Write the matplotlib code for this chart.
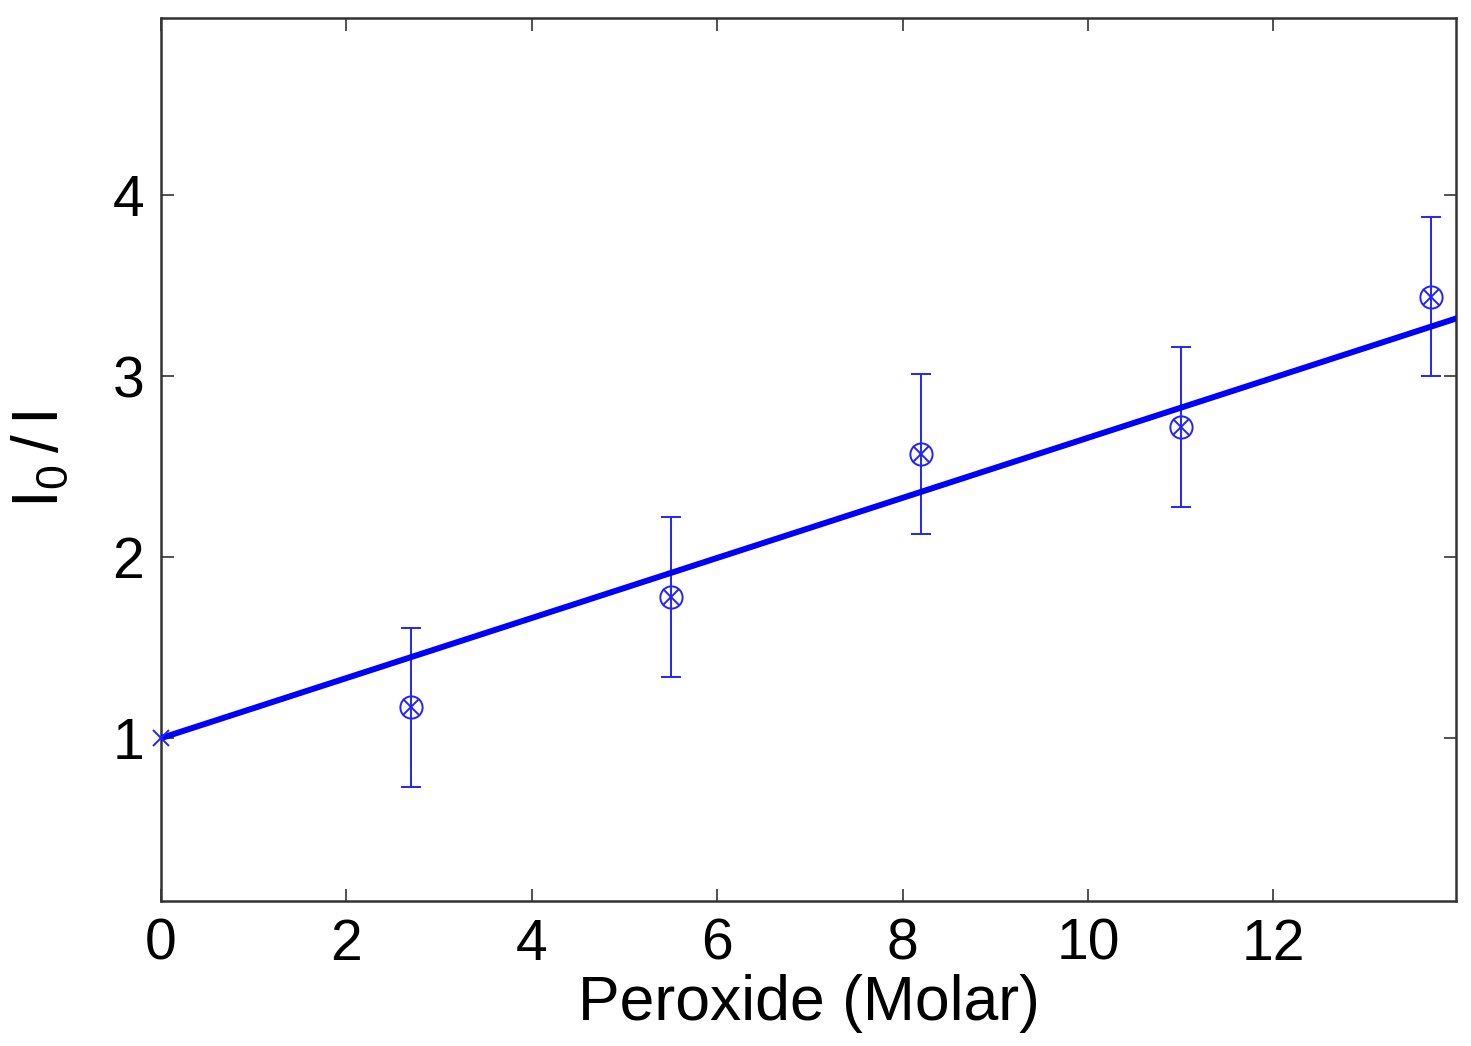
import matplotlib
matplotlib.use("Agg")
import matplotlib.pyplot as plt
import numpy as np

plt.rcParams['font.family'] = ['Liberation Sans', 'DejaVu Sans']
plt.rcParams['mathtext.fontset'] = 'custom'
plt.rcParams['mathtext.rm'] = 'Liberation Sans'

# Data
peroxide = [2.7, 5.5, 8.2, 11.0, 13.7]
ratio = [1.17, 1.78, 2.57, 2.72, 3.44]
ratio_err = [0.44, 0.44, 0.44, 0.44, 0.44]
origin_x = [0.0]
origin_y = [1.0]
fit_intercept = 1.0
fit_slope = 0.166
xticks = [0, 2, 4, 6, 8, 10, 12]
yticks = [1, 2, 3, 4]
xlim = (0, 13.97)
ylim = (0.1, 4.98)

fig = plt.figure(figsize=(14.71, 10.46), dpi=100)
ax = fig.add_axes([161/1471, 1-901/1046, (1456-161)/1471, (901-18)/1046])

fx = np.array(xlim)
ax.plot(fx, fit_intercept + fit_slope*fx, color='#0000ff', lw=4.3, zorder=3, clip_on=True)
ax.errorbar(peroxide, ratio, yerr=ratio_err, fmt='none', ecolor='#2222ff', elinewidth=1.4,
            capsize=7.5, capthick=1.4, zorder=2)
ax.plot(peroxide, ratio, 'o', mfc='none', mec='#2222ff', ms=16, mew=1.4, zorder=4)
ax.plot(peroxide, ratio, 'x', color='#2222ff', ms=11, mew=1.4, zorder=4)
ax.plot(origin_x, origin_y, 'x', color='#2222ff', ms=11, mew=1.4, zorder=4, clip_on=False)

ax.set_xlim(*xlim)
ax.set_ylim(*ylim)
ax.set_xticks(xticks)
ax.set_yticks(yticks)
ax.tick_params(direction='in', length=9, width=1.2, color='#333333', labelsize=41,
               top=True, right=True, pad=12)
for s in ax.spines.values():
    s.set_color('#333333')
    s.set_linewidth(1.8)

ax.set_xlabel('Peroxide (Molar)', fontsize=45, labelpad=2)
ax.set_ylabel(r'$\mathregular{I_0\,/\,I}$', fontsize=46, labelpad=30)

fig.savefig('out.png', dpi=100)
